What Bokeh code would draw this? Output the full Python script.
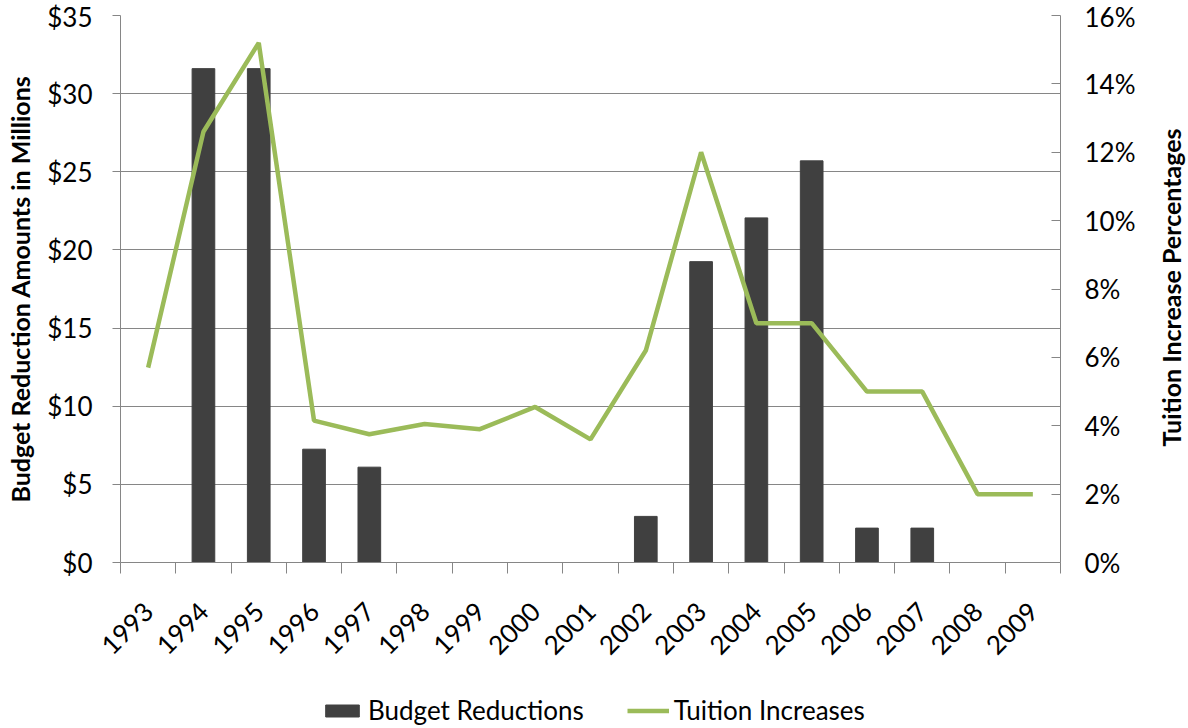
from math import pi
from bokeh.plotting import figure
from bokeh.layouts import column, row
from bokeh.models import (Range1d, LinearAxis, FixedTicker, NumeralTickFormatter,
                          PrintfTickFormatter, Legend, LegendItem, Grid, Label)
from bokeh.embed import file_html
from bokeh.resources import INLINE

years = [1993, 1994, 1995, 1996, 1997, 1998, 1999, 2000, 2001,
         2002, 2003, 2004, 2005, 2006, 2007, 2008, 2009]
budget_reductions = [0, 31.6, 31.6, 7.25, 6.1, 0, 0, 0, 0,
                     2.95, 19.25, 22.05, 25.7, 2.2, 2.2, 0, 0]
tuition_increases = [5.7, 12.6, 15.2, 4.15, 3.75, 4.05, 3.9, 4.55, 3.6,
                     6.2, 12.0, 7.0, 7.0, 5.0, 5.0, 2.0, 2.0]
budget_ticks = [0, 5, 10, 15, 20, 25, 30, 35]
pct_ticks = [0, 2, 4, 6, 8, 10, 12, 14, 16]
series_names = ["Budget Reductions", "Tuition Increases"]
left_title = "Budget Reduction Amounts in Millions"
right_title = "Tuition Increase Percentages"

FONT = "Lato"
AXIS_GRAY = "#868686"
BAR_COLOR = "#404040"
LINE_COLOR = "#9BBB59"
TICK_SIZE = "26px"
TITLE_SIZE = "25px"

p = figure(width=1148, height=680, output_backend="svg", toolbar_location=None,
           x_range=Range1d(years[0] - 0.5, years[-1] + 0.5),
           y_range=Range1d(0, 35),
           min_border_left=120, min_border_right=88,
           min_border_top=15, min_border_bottom=118,
           x_axis_type=None, y_axis_type=None)
p.outline_line_color = None
p.background_fill_color = "white"
p.border_fill_color = "white"
p.extra_y_ranges = {"pct": Range1d(0, 16)}

# x axis: year labels at centres, ticks at category boundaries
xaxis = LinearAxis(ticker=FixedTicker(ticks=years,
                                      minor_ticks=[y - 0.5 for y in years] + [years[-1] + 0.5]))
xaxis.major_tick_line_color = None
xaxis.minor_tick_out = 11
xaxis.minor_tick_in = 0
xaxis.minor_tick_line_color = AXIS_GRAY
xaxis.axis_line_color = AXIS_GRAY
xaxis.major_label_orientation = pi / 4
xaxis.major_label_standoff = 33
xaxis.major_label_text_font = FONT
xaxis.major_label_text_font_size = TICK_SIZE
xaxis.major_label_text_color = "#000000"
p.add_layout(xaxis, "below")

# left axis
yaxis = LinearAxis(ticker=FixedTicker(ticks=budget_ticks),
                   formatter=NumeralTickFormatter(format="$0"),
                   axis_label=left_title)
yaxis.major_tick_out = 8
yaxis.major_tick_in = 0
yaxis.minor_tick_line_color = None
yaxis.major_tick_line_color = AXIS_GRAY
yaxis.axis_line_color = AXIS_GRAY
yaxis.major_label_standoff = 20
yaxis.major_label_text_font = FONT
yaxis.major_label_text_font_size = TICK_SIZE
yaxis.major_label_text_color = "#000000"
yaxis.axis_label_text_font = FONT
yaxis.axis_label_text_font_style = "bold"
yaxis.axis_label_text_font_size = TITLE_SIZE
yaxis.axis_label_text_color = "#000000"
yaxis.axis_label_standoff = 9
p.add_layout(yaxis, "left")

# right axis (ticks and labels)
raxis = LinearAxis(y_range_name="pct", ticker=FixedTicker(ticks=pct_ticks),
                   formatter=PrintfTickFormatter(format="%d%%"))
raxis.major_tick_out = 0
raxis.major_tick_in = 9
raxis.minor_tick_line_color = None
raxis.major_tick_line_color = AXIS_GRAY
raxis.axis_line_color = AXIS_GRAY
raxis.major_label_standoff = 24
raxis.major_label_text_font = FONT
raxis.major_label_text_font_size = TICK_SIZE
raxis.major_label_text_color = "#000000"
p.add_layout(raxis, "right")

p.xgrid.visible = False
p.ygrid.visible = False
grid = Grid(dimension=1, ticker=yaxis.ticker, grid_line_color=AXIS_GRAY, grid_line_width=1)
p.add_layout(grid)

bars = p.vbar(x=years, top=budget_reductions, width=0.41, fill_color=BAR_COLOR,
              line_color=BAR_COLOR)
line = p.line(x=years, y=tuition_increases, y_range_name="pct",
              line_color=LINE_COLOR, line_width=4.5)

# right-hand axis title, reading bottom-to-top, in a narrow strip
tp = figure(width=40, height=680, output_backend="svg", toolbar_location=None,
            x_range=Range1d(0, 1), y_range=Range1d(0, 1),
            min_border_left=0, min_border_right=0, min_border_top=0, min_border_bottom=0,
            x_axis_type=None, y_axis_type=None)
tp.outline_line_color = None
tp.grid.visible = False
tp.add_layout(Label(x=22, y=275, x_units="screen", y_units="screen", text=right_title,
                    angle=pi / 2, text_align="center", text_baseline="middle",
                    text_font=FONT, text_font_style="bold", text_font_size=TITLE_SIZE,
                    text_color="#000000"))

# legend strip under the chart
lp = figure(width=1188, height=48, output_backend="svg", toolbar_location=None,
            x_range=Range1d(0, 1), y_range=Range1d(0, 1),
            min_border_left=0, min_border_right=0, min_border_top=0, min_border_bottom=0,
            x_axis_type=None, y_axis_type=None)
lp.outline_line_color = None
lp.grid.visible = False
lbars = lp.vbar(x=years, top=budget_reductions, width=0.41, fill_color=BAR_COLOR,
                line_color=BAR_COLOR)
lline = lp.line(x=years, y=tuition_increases, line_color=LINE_COLOR, line_width=4.5)
legend = Legend(items=[LegendItem(label=series_names[0], renderers=[lbars]),
                       LegendItem(label=series_names[1], renderers=[lline])],
                orientation="horizontal", location=(321, 2),
                border_line_color=None, background_fill_alpha=0,
                padding=0, margin=0, spacing=43, label_standoff=5,
                glyph_width=42, glyph_height=15,
                label_text_font=FONT, label_text_font_size=TICK_SIZE,
                label_text_color="#000000")
lp.add_layout(legend, "center")

layout = column(row(p, tp, spacing=0), lp, spacing=0)
open("out.html", "w").write(file_html(layout, INLINE))
